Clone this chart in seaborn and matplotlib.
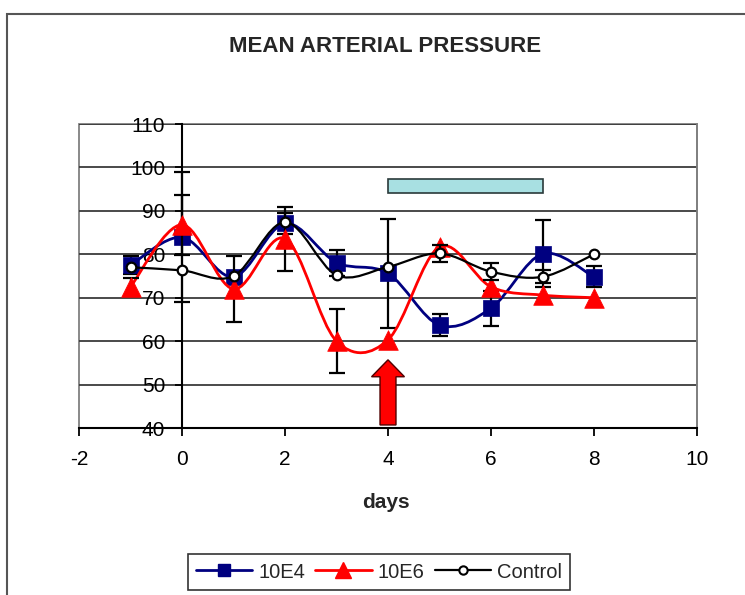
import numpy as np
import pandas as pd
import matplotlib
matplotlib.use("Agg")
import matplotlib.pyplot as plt
from matplotlib.path import Path
from matplotlib.patches import PathPatch, Rectangle, Polygon
from matplotlib.lines import Line2D
import seaborn as sns

# ---------------- data ----------------
days = [-1, 0, 1, 2, 3, 4, 5, 6, 7, 8]
e4_vals = [77.5, 83.9, 74.8, 87.1, 78.1, 75.6, 63.7, 67.6, 80.1, 74.8]
e4_err = [2.1, 15.0, 0.0, 2.5, 3.0, 12.6, 2.5, 4.0, 7.7, 2.4]
e6_vals = [72.5, 86.8, 72.0, 83.6, 60.0, 60.3, 81.7, 72.5, 70.6, 70.0]
e6_err = [2.1, 6.9, 7.7, 7.4, 7.3, 0.0, 0.0, 0.0, 0.0, 0.0]
ctrl_vals = [77.0, 76.3, 75.0, 87.4, 75.2, 77.1, 80.2, 76.0, 74.8, 80.0]
ctrl_err = [0.0, 0.0, 0.0, 0.0, 0.0, 0.0, 1.9, 1.9, 1.5, 0.0]
series_names = ["10E4", "10E6", "Control"]
x_ticks = [-2, 0, 2, 4, 6, 8, 10]
y_ticks = [40, 50, 60, 70, 80, 90, 100, 110]
# annotations
treat_bar = (4, 7, 94.2, 97.3)          # x start, x end, y low, y high
arrow_x, arrow_base, arrow_head, arrow_tip = 4, 40.7, 51.8, 55.7
arrow_body_hw, arrow_head_hw = 0.155, 0.32

# ---------------- style ----------------
sns.set_style("white")
plt.rcParams['font.family'] = ['Liberation Sans', 'DejaVu Sans']

fig = plt.figure(figsize=(7.45, 5.95), dpi=100)
ax = fig.add_axes([79 / 745, 1 - 428 / 595, (697 - 79) / 745, (428 - 124) / 595])
ax.set_xlim(-2, 10)
ax.set_ylim(40, 110)


def smooth_path(xs, ys):
    pts = np.column_stack([xs, ys]).astype(float)
    n = len(pts)
    verts = [pts[0]]
    codes = [Path.MOVETO]
    for i in range(n - 1):
        p0 = pts[i - 1] if i > 0 else pts[i]
        p1 = pts[i]
        p2 = pts[i + 1]
        p3 = pts[i + 2] if i + 2 < n else pts[i + 1]
        c1 = p1 + (p2 - p0) / 6.0
        c2 = p2 - (p3 - p1) / 6.0
        verts += [c1, c2, p2]
        codes += [Path.CURVE4] * 3
    return Path(verts, codes)


colors = {"10E4": "#000080", "10E6": "#FF0000", "Control": "#000000"}
vals = {"10E4": e4_vals, "10E6": e6_vals, "Control": ctrl_vals}
errs = {"10E4": e4_err, "10E6": e6_err, "Control": ctrl_err}
lws = {"10E4": 2.0, "10E6": 2.0, "Control": 1.6}

z = 3
for name in series_names:
    v = vals[name]
    ax.add_patch(PathPatch(smooth_path(days, v), facecolor='none',
                           edgecolor=colors[name], lw=lws[name], zorder=z))
    e = np.array(errs[name])
    mask = e > 0
    ax.errorbar(np.array(days)[mask], np.array(v)[mask], yerr=e[mask], fmt='none',
                ecolor='black', elinewidth=1.6, capsize=5.5, capthick=1.6, zorder=z + 0.5)
    df = pd.DataFrame({"day": days, "val": v})
    if name == "10E4":
        sns.scatterplot(data=df, x="day", y="val", marker="s", s=125, color=colors[name],
                        edgecolor=colors[name], linewidth=0.5, ax=ax, zorder=z + 1, legend=False)
    elif name == "10E6":
        sns.scatterplot(data=df, x="day", y="val", marker="^", s=200, color=colors[name],
                        edgecolor=colors[name], linewidth=0.5, ax=ax, zorder=z + 1, legend=False)
    else:
        sns.scatterplot(data=df, x="day", y="val", marker="o", s=48, color="white",
                        edgecolor="black", linewidth=1.6, ax=ax, zorder=z + 1, legend=False)
    z += 2

# treatment bar
ax.add_patch(Rectangle((treat_bar[0], treat_bar[2]), treat_bar[1] - treat_bar[0],
                       treat_bar[3] - treat_bar[2], facecolor="#A8E0E2",
                       edgecolor="#2a3a3a", lw=1.2, zorder=2))
# red arrow
ax.add_patch(Polygon([
    (arrow_x - arrow_body_hw, arrow_base), (arrow_x + arrow_body_hw, arrow_base),
    (arrow_x + arrow_body_hw, arrow_head), (arrow_x + arrow_head_hw, arrow_head),
    (arrow_x, arrow_tip), (arrow_x - arrow_head_hw, arrow_head),
    (arrow_x - arrow_body_hw, arrow_head)], closed=True,
    facecolor="#FF0000", edgecolor="#500000", lw=1.0, zorder=12))

# axes styling
ax.set_xticks(x_ticks)
ax.set_yticks(y_ticks)
ax.set_xticklabels([str(t) for t in x_ticks])
ax.set_yticklabels([str(t) for t in y_ticks])
ax.grid(axis='y', color='#3a3a3a', lw=1.3, zorder=1)
ax.grid(axis='x', visible=False)
ax.set_axisbelow(True)
ax.spines['left'].set_position(('data', 0))
ax.spines['left'].set_color('black')
ax.spines['left'].set_linewidth(1.5)
ax.spines['left'].set_zorder(2.5)
ax.spines['bottom'].set_color('black')
ax.spines['bottom'].set_linewidth(1.5)
ax.spines['top'].set_visible(False)
ax.spines['right'].set_color('#808080')
ax.spines['right'].set_linewidth(1.3)
ax.add_patch(Rectangle((0, 0), 1, 1, transform=ax.transAxes, facecolor='none',
                       edgecolor='#808080', lw=1.3, zorder=0.5, clip_on=False))
ax.tick_params(axis='y', which='both', left=True, direction='out', length=5, width=1.3,
               pad=7, labelsize=15, colors='black')
ax.tick_params(axis='x', which='both', bottom=True, direction='out', length=6, width=1.3,
               pad=10, labelsize=15, colors='black')
ax.set_xlabel("")
ax.set_ylabel("")

fig.text(385 / 745, 1 - 46 / 595, "MEAN ARTERIAL PRESSURE", ha='center', va='center',
         fontsize=16, fontweight='bold')
fig.text(386 / 745, 1 - 503 / 595, "days", ha='center', va='center',
         fontsize=15, fontweight='bold')

# outer chart border
fig.patches.append(Rectangle((7 / 745, -0.05), 1.2, 1 - 14 / 595 + 0.05,
                             transform=fig.transFigure, facecolor='none',
                             edgecolor='#555555', lw=1.5, clip_on=False))

handles = [
    Line2D([], [], color=colors["10E4"], lw=2, marker='s', markersize=9,
           markerfacecolor=colors["10E4"], markeredgecolor=colors["10E4"]),
    Line2D([], [], color=colors["10E6"], lw=2, marker='^', markersize=11,
           markerfacecolor=colors["10E6"], markeredgecolor=colors["10E6"]),
    Line2D([], [], color=colors["Control"], lw=1.6, marker='o', markersize=6,
           markerfacecolor='white', markeredgecolor='black', markeredgewidth=1.5),
]
leg = fig.legend(handles, series_names, loc='center', bbox_to_anchor=(379 / 745, 1 - 572 / 595),
                 ncol=3, fontsize=14.5, frameon=True, fancybox=False, shadow=False,
                 handlelength=2.8, handletextpad=0.3, columnspacing=0.5, borderpad=0.4,
                 borderaxespad=0)
leg.get_frame().set_edgecolor('black')
leg.get_frame().set_linewidth(1.2)

fig.savefig("out.png", dpi=100)
